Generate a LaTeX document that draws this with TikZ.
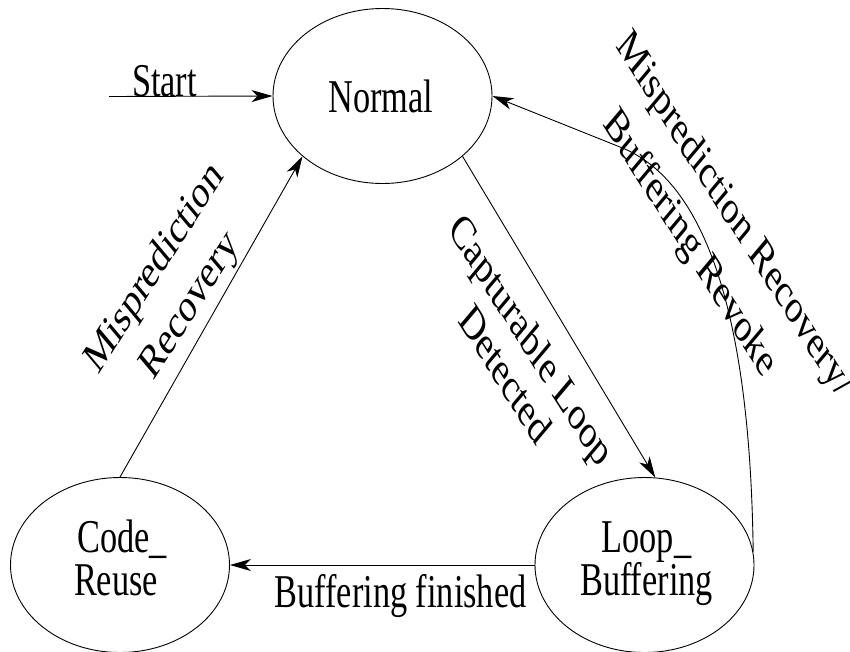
\documentclass[tikz,border=0pt]{standalone}
\usepackage{fontspec}
\setmainfont{Liberation Serif}
\usetikzlibrary{arrows.meta,shapes.geometric}
\begin{document}
\begin{tikzpicture}[x=1pt,y=-1pt,
  state/.style={draw, line width=0.9pt, ellipse, minimum width=219pt,
    minimum height=175pt, inner sep=0pt},
  txt/.style={font=\fontsize{47}{43}\selectfont, xscale=0.73, inner sep=0pt},
  edge/.style={line width=0.9pt, -{Stealth[length=21pt,width=12pt,inset=6pt]}},
]
\useasboundingbox (0,0) rectangle (850,651);

% states
\node[state] (n)  at (382.5,96) {};
\node[state] (cr) at (120,565) {};
\node[state] (lb) at (644.5,565) {};

\node[txt, anchor=base] (nt)   at (381,112)   {Normal};
\node[txt, anchor=base] (crt1) at (122,552)   {Code\_};
\node[txt, anchor=base] (crt2) at (116,595)   {Reuse};
\node[txt, anchor=base] (lbt1) at (646.5,552) {Loop\_};
\node[txt, anchor=base] (lbt2) at (646.5,595) {Buffering};

% initial transition
\coordinate (s) at (109,96.5);
\draw[edge] (s) -- (n.west);
\node[txt, anchor=base] (st) at (164.5,96.5) {Start};

% transitions
\draw[edge] (cr.north) -- (n.217);
\draw[edge] (n.-37) -- (lb.83);
\draw[edge] (lb.west) -- (cr.east);
\draw[edge] (lb.7) .. controls (750,300) and (700,178) .. (620,147) -- (n.east);

% transition labels, one node per line
\node[txt, rotate=49]  (l1a) at (155,269)     {Misprediction};
\node[txt, rotate=49]  (l1b) at (190.5,307)   {Recovery};
\node[txt, rotate=-49] (l2a) at (529.5,342.5) {Capturable Loop};
\node[txt, rotate=-49] (l2b) at (506,373.5)   {Detected};
\node[txt, rotate=-49] (l3a) at (733.5,216)   {Misprediction Recovery/};
\node[txt, rotate=-49] (l3b) at (689.5,244.5) {Buffering Revoke};
\node[txt, anchor=base] (l4) at (400.5,607) {Buffering finished};
\end{tikzpicture}
\end{document}
